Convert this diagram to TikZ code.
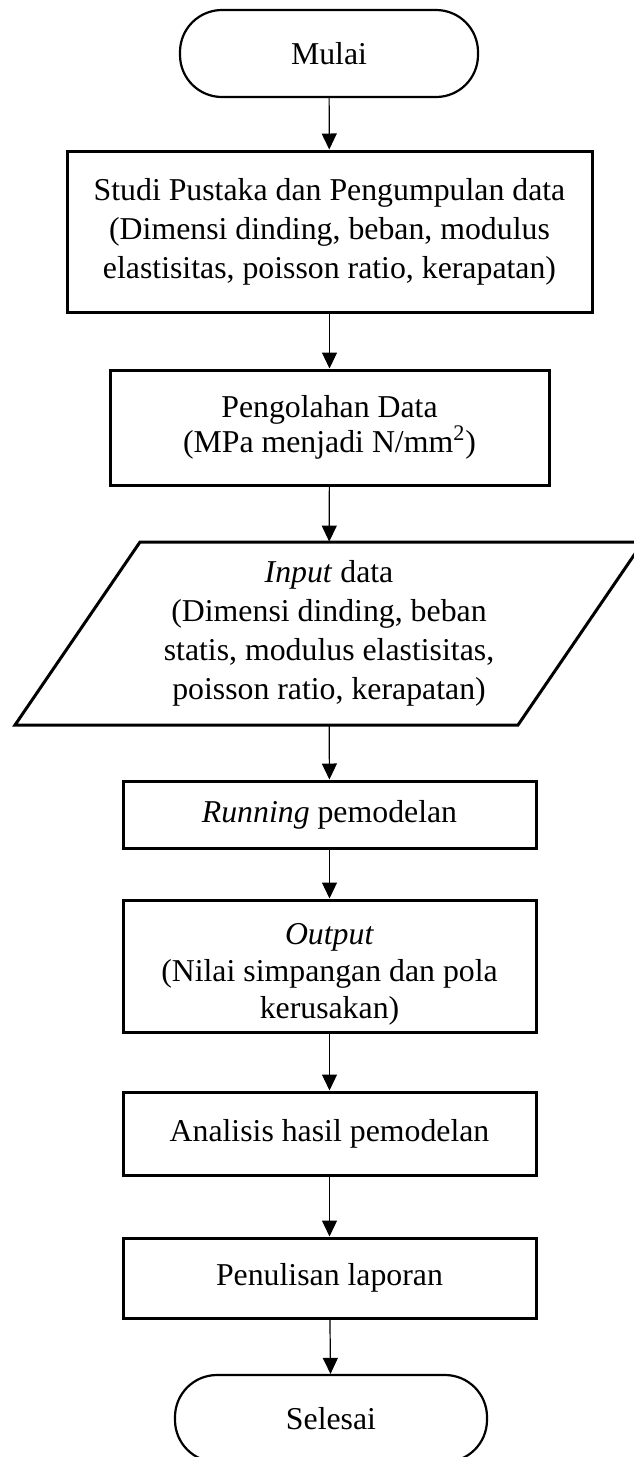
\documentclass[tikz,border=0pt]{standalone}
\usepackage{fontspec}
\setmainfont{Liberation Serif}
\usetikzlibrary{arrows.meta}

\begin{document}
\begin{tikzpicture}[
    x=0.5pt, y=-0.5pt,
    every node/.style={font=\fontsize{15.9}{19.5}\selectfont, align=center, inner sep=0pt},
    terminal/.style={draw, line width=1.1pt, rounded corners=21pt,
        minimum width=149pt, minimum height=43.5pt},
    process/.style={draw, line width=1.5pt, minimum width=206.5pt},
    flow/.style={line width=0.6pt, -{Triangle[length=8pt, width=7.5pt]}}
]
\useasboundingbox (0,0) rectangle (633,1457);

% -------- Start ---------------------------------------------
\node[terminal] (mulai) at (329, 53.5) {Mulai};

% -------- Literature study and data -------------------------
\node[process, minimum width=262.5pt, minimum height=80.5pt] (studi)
    at (329.5, 231.5)
    {Studi Pustaka dan Pengumpulan data\\
     (Dimensi dinding, beban, modulus\\
     elastisitas, poisson ratio, kerapatan)};

\node[process, minimum width=219.5pt, minimum height=57.5pt] (olah)
    at (329.5, 427.5)
    {Pengolahan Data\\[-2pt]
     (MPa menjadi N/mm\textsuperscript{2})};

% -------- Input (parallelogram, drawn round an empty frame) -
\node[minimum width=189pt, minimum height=91.5pt] (input)
    at (329, 633.5)
    {\textit{Input} data\\
     (Dimensi dinding, beban\\
     statis, modulus elastisitas,\\
     poisson ratio, kerapatan)};
\draw[line width=1.5pt, line join=miter]
    ([shift={(-189,-91.5)}]input.center) -- ([shift={(314,-91.5)}]input.center)
    -- ([shift={(189,91.5)}]input.center) -- ([shift={(-314,91.5)}]input.center)
    -- cycle;

% -------- Modelling -----------------------------------------
\node[process, minimum height=33.5pt] (running) at (329.5, 814.5)
    {\textit{Running} pemodelan};

% text sits low in this box, last line on the border
\node[process, minimum height=66pt] (output) at (329.5, 966)
    {\rule{0pt}{19pt}\textit{Output}\\[-1pt]
     (Nilai simpangan dan pola\\[-1pt]
     kerusakan)};

\node[process, minimum height=41.5pt] (analisis) at (329.5, 1133.5)
    {Analisis hasil pemodelan};

\node[process, minimum height=40pt] (laporan) at (329.5, 1278)
    {Penulisan laporan};

% -------- End (runs past the bottom edge) -------------------
\node[terminal, minimum width=156pt] (selesai) at (331, 1418.5) {Selesai};

% -------- Arrows --------------------------------------------
\draw[flow] (mulai) -- (studi);
\draw[flow] (studi) -- (olah);
\draw[flow] (olah) -- (input);
\draw[flow] (input) -- (running);
\draw[flow] (running) -- (output);
\draw[flow] (output) -- (analisis);
\draw[flow] (analisis) -- (laporan);
\draw[flow] (laporan) -- (selesai);

\end{tikzpicture}
\end{document}
